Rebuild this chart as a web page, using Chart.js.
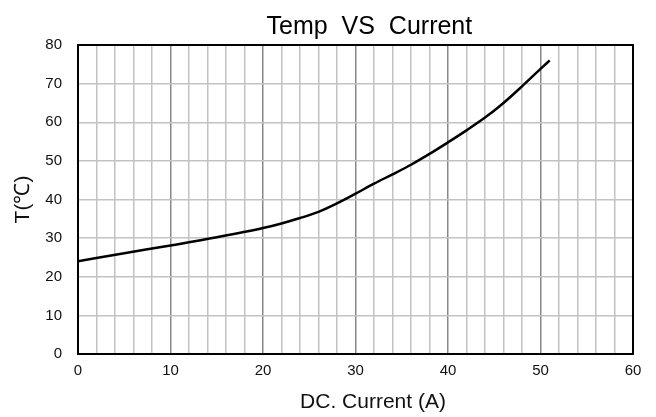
<!DOCTYPE html>
<html>
<head>
<meta charset="utf-8">
<script src="https://cdn.jsdelivr.net/npm/chart.js@4.4.0/dist/chart.umd.min.js"></script>
<style>
    html, body { margin: 0; padding: 0; background: #fff; }
    #wrap { width: 656px; height: 417px; }
</style>
</head>
<body>
<div id="wrap"><canvas id="tempChart"></canvas></div>
<script>
// values
const current = [0, 5, 10, 15, 20, 22, 24, 26, 28, 30, 32, 34, 36, 38, 40, 42, 44, 46, 48, 50, 51];
const temp = [24.0, 26.1, 28.1, 30.2, 32.6, 33.8, 35.2, 36.8, 39.0, 41.5, 44.1, 46.5, 49.0, 51.8, 54.8, 57.9, 61.2, 65.0, 69.3, 73.8, 76.0];
const xTicks = [0, 10, 20, 30, 40, 50, 60];
const yTicks = [0, 10, 20, 30, 40, 50, 60, 70, 80];

const FONT = 'Liberation Sans, Arial, sans-serif';

// frame round the plot area (Chart.js only draws the axis side)
const frame = {
    id: 'frame',
    afterDraw(chart) {
        const a = chart.chartArea;
        const c = chart.ctx;
        c.save();
        c.strokeStyle = '#000';
        c.lineWidth = 2;
        c.strokeRect(a.left, a.top, a.right - a.left, a.bottom - a.top);
        c.restore();
    }
};

new Chart(document.getElementById('tempChart'), {
    type: 'line',
    data: {
        datasets: [{
            data: current.map((x, i) => ({ x: x, y: temp[i] })),
            borderColor: '#000',
            borderWidth: 2.5,
            pointRadius: 0,
            cubicInterpolationMode: 'monotone',
            fill: false
        }]
    },
    options: {
        responsive: true,
        maintainAspectRatio: false,
        animation: false,
        layout: { padding: { right: 23, top: 0 } },
        plugins: {
            legend: { display: false },
            tooltip: { enabled: false },
            title: {
                display: true,
                fullSize: false,
                text: '    Temp  VS  Current',
                color: '#000',
                font: { family: FONT, size: 25, weight: 'normal' },
                padding: { top: 12, bottom: 3 }
            }
        },
        scales: {
            x: {
                type: 'linear',
                min: 0,
                max: 60,
                afterBuildTicks: axis => {
                    axis.ticks = [];
                    for (let v = 0; v <= 60; v += 2) axis.ticks.push({ value: v });
                },
                afterFit: axis => { axis.height = 63; },
                grid: {
                    drawTicks: false,
                    color: ctx => (ctx.tick && ctx.tick.value % 10 === 0) ? '#888' : '#c2c2c2',
                    lineWidth: 1.5
                },
                border: { display: false },
                ticks: {
                    autoSkip: false,
                    maxRotation: 0,
                    padding: 8,
                    color: '#111',
                    font: { family: FONT, size: 15 },
                    callback: v => xTicks.includes(v) ? String(v) : ''
                },
                title: {
                    display: true,
                    text: '      DC. Current (A)',
                    color: '#111',
                    font: { family: FONT, size: 21 },
                    padding: { top: 4, bottom: 2 }
                }
            },
            y: {
                min: 0,
                max: 80,
                afterBuildTicks: axis => {
                    axis.ticks = yTicks.map(v => ({ value: v }));
                },
                afterFit: axis => { axis.width = 78; },
                grid: {
                    drawTicks: false,
                    color: '#c2c2c2',
                    lineWidth: 1.5
                },
                border: { display: false },
                ticks: {
                    padding: 16,
                    color: '#111',
                    font: { family: FONT, size: 15 }
                },
                title: {
                    display: true,
                    text: 'T(℃)',
                    color: '#111',
                    font: { family: FONT, size: 21 },
                    padding: { top: 11, bottom: 0 }
                }
            }
        }
    },
    plugins: [frame]
});
</script>
</body>
</html>
